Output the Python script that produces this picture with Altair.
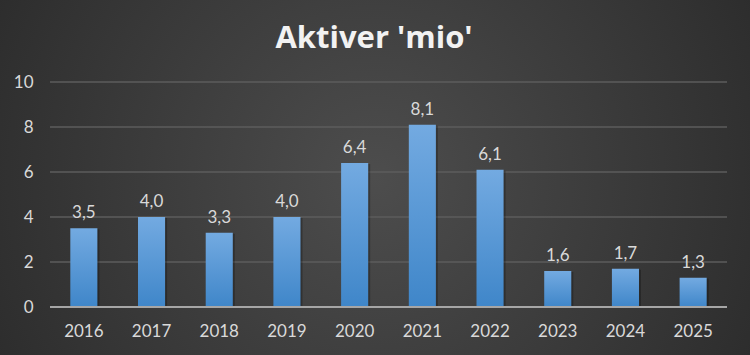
import altair as alt
import pandas as pd

years = ["2016", "2017", "2018", "2019", "2020", "2021", "2022", "2023", "2024", "2025"]
values = [3.5, 4.0, 3.3, 4.0, 6.4, 8.1, 6.1, 1.6, 1.7, 1.3]
y_ticks = [0, 2, 4, 6, 8, 10]
title_text = "Aktiver 'mio'"

df = pd.DataFrame({"year": years, "value": values})
grid_df = pd.DataFrame({"t": y_ticks[1:]})

FONT = "Lato"
TFONT = "Open Sans"
TXT = "#d9d9d9"

x_enc = alt.X("year:N", sort=years,
              scale=alt.Scale(paddingInner=0.6, paddingOuter=0.3),
              axis=alt.Axis(title=None, labelAngle=0, ticks=False, domain=False,
                            labelFont=FONT, labelFontSize=17, labelColor=TXT,
                            labelPadding=16, grid=False, zindex=1))
y_enc = alt.Y("value:Q", scale=alt.Scale(domain=[0, 10], nice=False),
              axis=alt.Axis(title=None, values=y_ticks, ticks=False, domain=False,
                            labelFont=FONT, labelFontSize=17, labelColor=TXT,
                            labelPadding=17, grid=False, zindex=1))

bg = alt.Chart(alt.Data(values=[{"a": 1}])).mark_rect(
    color={"gradient": "radial", "x1": 0.5, "y1": 0.5, "r1": 0,
           "x2": 0.5, "y2": 0.5, "r2": 0.75,
           "stops": [{"offset": 0, "color": "#4d4d4d"},
                     {"offset": 1, "color": "#222222"}]}
).encode(x=alt.value(-50), x2=alt.value(700), y=alt.value(-82), y2=alt.value(273))

title = alt.Chart(alt.Data(values=[{"t": title_text}])).mark_text(
    font=TFONT, fontSize=31, fontWeight="bold", color="#f2f2f2",
    baseline="alphabetic", align="center"
).encode(x=alt.value(324), y=alt.value(-34), text="t:N")

grid = alt.Chart(grid_df).mark_rule(color="#5c5c5c", strokeWidth=1.5).encode(
    y=alt.Y("t:Q"), x=alt.value(0), x2=alt.value(677))

base = alt.Chart(df)

shadow = base.mark_bar(color="#000000", opacity=0.25, xOffset=2, yOffset=1).encode(
    x=x_enc, y=y_enc)

bars = base.mark_bar(
    color=alt.Gradient(gradient="linear", x1=0, x2=0, y1=0, y2=1,
                       stops=[alt.GradientStop(color="#73aae1", offset=0),
                              alt.GradientStop(color="#3f86c9", offset=1)])
).encode(x=x_enc, y=y_enc)

labels = base.transform_calculate(
    lab="replace(format(datum.value, '.1f'), '.', ',')"
).mark_text(dy=-15, font=FONT, fontSize=17, color=TXT).encode(
    x=alt.X("year:N", sort=years), y="value:Q", text="lab:N")

baseline = alt.Chart(alt.Data(values=[{"v": 0}])).mark_rule(
    color="#a6a6a6", strokeWidth=2).encode(
    y=alt.Y("v:Q"), x=alt.value(0), x2=alt.value(677))

chart = alt.layer(bg, title, grid, shadow, bars, labels, baseline).properties(
    width=677, height=225,
    padding={"left": 50, "top": 82, "right": 23, "bottom": 48},
    autosize=alt.AutoSizeParams(type="none"),
    background="#333333",
).configure_view(stroke=None)

chart.save("out.html", embed_options={"renderer": "svg", "actions": False})
